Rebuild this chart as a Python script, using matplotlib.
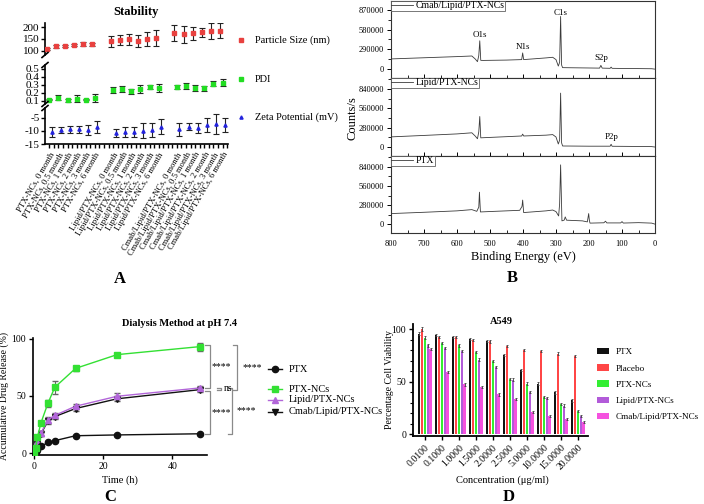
import matplotlib
matplotlib.use('Agg')
import matplotlib.pyplot as plt
import numpy as np
from matplotlib.lines import Line2D
from matplotlib.patches import Patch
from matplotlib.ticker import MultipleLocator, StrMethodFormatter
import matplotlib.transforms as mtransforms

plt.rcParams['font.family'] = ['Liberation Serif', 'DejaVu Serif']
plt.rcParams['axes.unicode_minus'] = False

W, H = 704, 504
fig = plt.figure(figsize=(7.04, 5.04), dpi=100)


def ax_px(l, t, r, b):
    return fig.add_axes([l / W, 1 - b / H, (r - l) / W, (b - t) / H])


def fx(x):
    return x / W


def fy(y):
    return 1 - y / H

# ---------------- Panel A data ----------------
stab_groups = ['PTX-NCs', 'Lipid/PTX-NCs', 'Cmab/Lipid/PTX-NCs']
stab_times = ['0', '0.5', '1', '2', '3', '6']
size_mean = [108, 119, 121, 125, 128, 128, 140, 146, 148, 143, 151, 154, 174, 170, 174, 178, 184, 185]
size_err = [5, 7, 5, 4, 8, 7, 22, 20, 22, 25, 30, 32, 33, 35, 27, 20, 35, 32]
pdi_mean = [0.117, 0.14, 0.108, 0.13, 0.117, 0.138, 0.235, 0.25, 0.22, 0.245, 0.275, 0.265,
            0.275, 0.29, 0.265, 0.257, 0.315, 0.33]
pdi_err = [0.01, 0.03, 0.02, 0.04, 0.01, 0.05, 0.04, 0.04, 0.03, 0.05, 0.03, 0.05,
           0.03, 0.04, 0.04, 0.03, 0.03, 0.04]
zeta_mean = [-10.3, -9.6, -9.4, -9.4, -9.7, -8.5, -10.9, -10.4, -10.4, -9.9, -9.7, -8.3,
             -9.4, -8.3, -8.7, -7.7, -7.2, -7.7]
zeta_err = [1.9, 1.3, 1.3, 1.3, 1.9, 2.2, 1.5, 1.9, 1.9, 2.8, 2.6, 2.8, 2.6, 1.5, 1.9, 2.8, 3.8, 2.8]

# ---------------- Panel B data ----------------
xps_names = ['Cmab/Lipid/PTX-NCs', 'Lipid/PTX-NCs', 'PTX']
cmab_be = [800, 700, 600, 555, 545, 538, 534, 531, 528, 520, 450, 404, 401, 398, 330, 310, 300,
           293, 289, 286, 283, 280, 250, 200, 168, 164, 160, 136, 133, 130, 100, 50, 10, 0]
cmab_cnt = [150000, 167000, 184000, 193000, 150000, 110000, 200000, 416000, 129000, 128000, 133000,
            140000, 238000, 140000, 165000, 174000, 140000, 45000, 100000, 773000, 60000, 22000,
            20000, 17000, 15000, 55000, 15000, 12000, 30000, 12000, 10000, 8000, 6000, 0]
lipid_be = [800, 700, 600, 555, 545, 538, 534, 531, 528, 520, 450, 404, 401, 398, 330, 310, 300,
            293, 289, 286, 283, 280, 250, 200, 136, 133, 130, 100, 50, 10, 0]
lipid_cnt = [147000, 168000, 190000, 206000, 160000, 120000, 220000, 442000, 133000, 135000, 150000,
             160000, 187000, 160000, 172000, 180000, 145000, 44000, 100000, 781000, 60000, 15000,
             14000, 12000, 12000, 40000, 11000, 10000, 8000, 6000, 0]
ptx_be = [800, 700, 600, 555, 540, 534, 532, 529, 500, 410, 403, 401, 398, 330, 310, 300, 292,
          289, 286, 282, 275, 272, 268, 220, 205, 201, 199, 197, 155, 150, 146, 104, 100, 96,
          50, 10, 0]
ptx_cnt = [155000, 174000, 195000, 213000, 188000, 250000, 469000, 179000, 185000, 203000, 260000,
           353000, 170000, 195000, 207000, 184000, 120000, 300000, 870000, 48000, 60000, 106000,
           58000, 48000, 33000, 155000, 60000, 15000, 20000, 43000, 18000, 18000, 37000, 16000,
           22000, 15000, 0]
xps_yticks = [[0, 290000, 580000, 870000], [0, 280000, 560000, 840000], [0, 280000, 560000, 840000]]

# ---------------- Panel C data ----------------
time_h = [0, 0.5, 1, 2, 4, 6, 12, 24, 48]
rel_ptx = [0, 1.5, 3, 6, 9.4, 11, 15.3, 16, 17]
rel_ptx_err = [0, 0.5, 0.5, 0.5, 0.6, 1, 0.6, 0.6, 0.6]
rel_nc = [0, 5, 14.5, 26.5, 43.5, 57.5, 74, 86, 93]
rel_nc_err = [0, 1, 1.5, 2, 3, 5.5, 2.5, 1, 3.5]
rel_lipid = [0, 3, 10, 17.5, 29, 33, 41, 49.7, 57]
rel_lipid_err = [0, 1, 1.5, 2, 2.5, 2, 2, 2.5, 2]
rel_cmab = [0, 2.5, 8, 17, 28, 32, 39, 47.5, 55.5]
rel_cmab_err = [0, 1, 1, 2, 2.5, 2, 2, 2, 2]

# ---------------- Panel D data ----------------
conc_labels = ['0.0100', '0.1000', '1.0000', '1.5000', '2.0000', '2.5000', '5.0000',
               '10.0000', '15.0000', '20.0000']
via_ptx = [95.9, 94.9, 93, 90.5, 88.6, 75.3, 61, 48.4, 39.9, 32.3]
via_placebo = [100.6, 93, 92.7, 89.6, 88.6, 83.9, 80.7, 79.7, 76.9, 74.7]
via_nc = [91.8, 87, 84.8, 78.5, 69.6, 52.5, 48.4, 36, 29, 22]
via_lipid = [84.8, 82, 79, 71.2, 64.2, 52.2, 40.5, 34.5, 27.5, 17.7]
via_cmab = [81, 59.5, 47.5, 45.3, 38, 33.5, 20.9, 17.7, 14.6, 12]
err_ptx = [1.2, 1, 1, 0.8, 1, 1, 1, 1, 1, 1]
err_placebo = [1.8, 1, 1.2, 0.8, 1.2, 1, 1, 1, 1, 1]
err_nc = [1.5, 1, 1.2, 1, 1, 1, 1.2, 1, 1, 1]
err_lipid = [1.2, 1, 1, 1, 1, 1.5, 1.2, 1, 1, 1]
err_cmab = [1, 1.2, 1, 1, 1, 1, 1, 1, 1, 1]

# ================= Panel A =================
stab_index = [g * 7 + t for g in range(3) for t in range(6)]
xpos = np.array(stab_index, float)
A_L, A_R = 45, 228
axA_top = ax_px(A_L, 23, A_R, 55)
axA_mid = ax_px(A_L, 65, A_R, 104)
axA_bot = ax_px(A_L, 108, A_R, 144)
specA = [
    (axA_top, size_mean, size_err, '#E8413F', 's', -0.27, (83, 217), [100, 150, 200]),
    (axA_mid, pdi_mean, pdi_err, '#22DD22', 's', 0.0, (0.0625, 0.55), [0.1, 0.2, 0.3, 0.4, 0.5]),
    (axA_bot, zeta_mean, zeta_err, '#2424DD', '^', 0.27, (-15, -1.2), [-15, -10, -5]),
]
for ax, mean, err, col, mk, off, yl, yt in specA:
    ax.errorbar(xpos + off, mean, yerr=err, fmt=mk, color=col, ms=2.3, ecolor='#222222',
                elinewidth=0.8, capsize=2, capthick=0.8, zorder=3)
    ax.set_xlim(-0.47, 19.6)
    ax.set_ylim(*yl)
    ax.set_yticks(yt)
    for s in ['top', 'right', 'bottom']:
        ax.spines[s].set_visible(False)
    ax.spines['left'].set_linewidth(1.2)
    ax.tick_params(axis='y', labelsize=8, length=3, width=1, pad=1)
    ax.set_xticks([])
    ax.patch.set_alpha(0)
axA_mid.yaxis.set_major_formatter(StrMethodFormatter('{x:.1f}'))
axA_bot.spines['bottom'].set_visible(True)
axA_bot.spines['bottom'].set_linewidth(1.2)
labels20 = [''] * 20
for g, grp in enumerate(stab_groups):
    for t, tm in enumerate(stab_times):
        labels20[g * 7 + t] = f'{grp}, {tm} month'
axA_bot.set_xticks(range(20))
axA_bot.set_xticks(np.arange(0.5, 19.6, 1.0), minor=True)
axA_bot.set_xticklabels(labels20, rotation=60, ha='right', va='top', rotation_mode='anchor',
                        fontsize=6.2)
axA_bot.tick_params(axis='x', which='both', length=3, width=1, pad=2)
axA_top.set_title('Stability', fontsize=9, fontweight='bold', pad=6)

# break marks
for yb in [55, 65, 104, 108]:
    fig.add_artist(Line2D([fx(A_L - 3), fx(A_L + 3)], [fy(yb + 2.5), fy(yb - 2.5)],
                          color='black', lw=1.2))

# legend A
legA = [('Particle Size (nm)', '#E8413F', 's', 40), ('PDI', '#22DD22', 's', 79),
        ('Zeta Potential (mV)', '#2424DD', '^', 117)]
for lab, col, mk, yy in legA:
    fig.add_artist(Line2D([fx(241)], [fy(yy)], marker=mk, color=col, ms=2.3, lw=0))
    fig.text(fx(255), fy(yy), lab, fontsize=7.5, va='center', ha='left')

# ================= Panel B =================
xps_data = [(cmab_be, cmab_cnt), (lipid_be, lipid_cnt), (ptx_be, ptx_cnt)]
B_tops = [1, 78, 156]
B_bots = [78, 156, 233]
axB = []
for i in range(3):
    ax = ax_px(391, B_tops[i], 655, B_bots[i])
    be, cnt = xps_data[i]
    ax.plot(be, cnt, color='#3a3a3a', lw=0.6, label=xps_names[i])
    ax.set_xlim(800, 0)
    ax.set_ylim(-130000, 1000000)
    ax.set_yticks(xps_yticks[i])
    ax.yaxis.set_minor_locator(MultipleLocator(xps_yticks[i][1] / 2))
    ax.yaxis.set_major_formatter(StrMethodFormatter('{x:.0f}'))
    ax.xaxis.set_major_locator(MultipleLocator(100))
    ax.xaxis.set_minor_locator(MultipleLocator(50))
    ax.tick_params(axis='y', which='major', labelsize=6, length=3, width=0.7, pad=2)
    ax.tick_params(axis='y', which='minor', length=2, width=0.6)
    ax.tick_params(axis='x', which='major', direction='in', length=3, width=0.7, labelsize=6, pad=5)
    ax.tick_params(axis='x', which='minor', direction='in', length=2, width=0.6)
    if i < 2:
        ax.tick_params(axis='x', labelbottom=False)
    for s in ax.spines.values():
        s.set_linewidth(0.8)
        s.set_color('#333333')
    lg = ax.legend(loc='upper left', fontsize=7, frameon=True, fancybox=False, borderpad=0.05,
                   borderaxespad=0, handlelength=2.2, handletextpad=0.3)
    lg.get_frame().set_edgecolor('#555555')
    lg.get_frame().set_linewidth(0.7)
    axB.append(ax)
axB[2].set_xlabel('Binding Energy (eV)', fontsize=9, labelpad=2)
fig.text(fx(352), fy(118), 'Counts/s', rotation=90, fontsize=9, ha='center', va='center')
peak_fs = 6.5
axB[0].text(531, 500000, 'O1s', fontsize=peak_fs, ha='center', va='center')
axB[0].text(401, 324000, 'N1s', fontsize=peak_fs, ha='center', va='center')
axB[0].text(286, 826000, 'C1s', fontsize=peak_fs, ha='center', va='center')
axB[0].text(164, 162000, 'S2p', fontsize=peak_fs, ha='center', va='center')
axB[1].text(131, 145000, 'P2p', fontsize=peak_fs, ha='center', va='center')

# ================= Panel C =================
axC = ax_px(33, 338, 207, 455)
c_green = '#33E033'
c_purple = '#B266D9'
axC.errorbar(time_h, rel_cmab, yerr=rel_cmab_err, color='#111111', marker='v', ms=4, lw=1,
             ecolor='#555555', elinewidth=0.8, capsize=2, zorder=2)
axC.errorbar(time_h, rel_lipid, yerr=rel_lipid_err, color=c_purple, marker='^', ms=4, lw=1,
             ecolor='#666666', elinewidth=0.8, capsize=2, zorder=3)
axC.errorbar(time_h, rel_ptx, yerr=rel_ptx_err, color='#111111', marker='o', ms=4.5, lw=1,
             ecolor='#555555', elinewidth=0.8, capsize=2, zorder=3)
axC.errorbar(time_h, rel_nc, yerr=rel_nc_err, color=c_green, marker='s', ms=4.5, lw=1,
             ecolor='#666666', elinewidth=0.8, capsize=2, zorder=4)
axC.set_xlim(-0.3, 50)
axC.set_ylim(-1.5, 100.5)
axC.set_xticks([0, 20, 40])
axC.set_yticks([0, 50, 100])
for s in ['top', 'right']:
    axC.spines[s].set_visible(False)
for s in ['left', 'bottom']:
    axC.spines[s].set_linewidth(1.2)
axC.tick_params(labelsize=7, length=3, width=1, pad=2)
axC.set_xlabel('Time (h)', fontsize=7.5, labelpad=3)
axC.set_ylabel('Accumulative Drug Release (%)', fontsize=7, labelpad=2)
fig.text(fx(180), fy(323), 'Dialysis Method at pH 7.4', fontsize=7.5, fontweight='bold',
         ha='center', va='center')

blend = mtransforms.blended_transform_factory(fig.transFigure, axC.transData)


def bracket(x0, x1, ya, yb, txt, xt):
    fig.add_artist(Line2D([fx(x0), fx(x1), fx(x1), fx(x0)], [ya, ya, yb, yb], transform=blend,
                          color='#8a8a8a', lw=0.9))
    fig.text(fx(xt), (ya + yb) / 2, txt, transform=blend, fontsize=7, ha='center',
             va='center')


bracket(205, 210, rel_nc[-1] + 1, rel_lipid[-1], '****', 221)
bracket(233, 237, rel_nc[-1] + 1, rel_cmab[-1], '****', 252)
bracket(217, 221, rel_lipid[-1] + 0.3, rel_cmab[-1] - 0.3, 'ns', 228)
bracket(205, 210, rel_cmab[-1] - 1, rel_ptx[-1], '****', 221)
bracket(228, 232, rel_lipid[-1], rel_ptx[-1], '****', 246)

legC = [('PTX', '#111111', 'o', 369), ('PTX-NCs', c_green, 's', 389),
        ('Lipid/PTX-NCs', c_purple, '^', 400), ('Cmab/Lipid/PTX-NCs', '#111111', 'v', 412)]
for lab, col, mk, yy in legC:
    fig.add_artist(Line2D([fx(268), fx(282)], [fy(yy), fy(yy)], color=col, lw=1))
    fig.add_artist(Line2D([fx(275)], [fy(yy)], color=col, marker=mk, ms=4.5, lw=0))
    fig.text(fx(289), fy(yy), lab, fontsize=7.5, ha='left', va='center')

# ================= Panel D =================
axD = ax_px(413, 324, 588, 436)
d_series = [(via_ptx, err_ptx, 'PTX', '#111111'),
            (via_placebo, err_placebo, 'Placebo', '#FF4646'),
            (via_nc, err_nc, 'PTX-NCs', '#33EE33'),
            (via_lipid, err_lipid, 'Lipid/PTX-NCs', '#B25BD9'),
            (via_cmab, err_cmab, 'Cmab/Lipid/PTX-NCs', '#F552DF')]
xg = np.arange(len(conc_labels))
slot = 0.168
bw = 0.13
handles = []
for k, (vals, errs, lab, col) in enumerate(d_series):
    axD.bar(xg + (k - 2) * slot, vals, width=bw, color=col, yerr=errs,
            error_kw=dict(ecolor='#444444', elinewidth=0.6, capsize=1, capthick=0.6))
    handles.append(Patch(facecolor=col, label=lab))
axD.set_xlim(-0.7, 9.6)
axD.set_ylim(-1.5, 105)
axD.set_xticks(xg)
axD.set_xticklabels(conc_labels, rotation=45, ha='right', va='top', rotation_mode='anchor',
                    fontsize=7)
axD.set_yticks([0, 50, 100])
axD.yaxis.set_minor_locator(MultipleLocator(10))
for s in ['top', 'right']:
    axD.spines[s].set_visible(False)
for s in ['left', 'bottom']:
    axD.spines[s].set_linewidth(1.3)
axD.tick_params(axis='both', which='major', labelsize=7, length=3, width=1, pad=2)
axD.tick_params(axis='y', which='minor', length=2, width=0.8)
fig.text(fx(501), fy(321), 'A549', fontsize=7.5, fontweight='bold', ha='center', va='center')
fig.text(fx(502), fy(480), 'Concentration (μg/ml)', fontsize=7.5, ha='center', va='center')
fig.text(fx(390), fy(380), 'Percentage Cell Viability', fontsize=7, rotation=90,
         ha='center', va='center')
fig.legend(handles=handles, loc='upper left', bbox_to_anchor=(fx(597), fy(348)), frameon=False,
           fontsize=6.6, handlelength=1.3, handleheight=0.7, labelspacing=0.85,
           handletextpad=0.7, borderpad=0, borderaxespad=0)

# panel letters
for lt, x, y in [('A', 120, 279), ('B', 512, 278), ('C', 110, 497), ('D', 509, 497)]:
    fig.text(fx(x), fy(y), lt, fontsize=12, fontweight='bold', ha='center', va='center')

fig.savefig('out.png', dpi=100)
